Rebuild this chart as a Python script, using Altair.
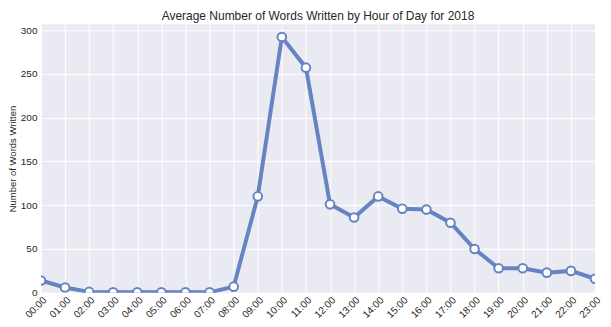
import altair as alt
import pandas as pd

hours = list(range(24))
hour_labels = [f"{h:02d}:00" for h in hours]
words = [14, 6, 1, 0.5, 0.5, 0.5, 0.5, 0.5, 7, 110, 292, 257, 101, 86, 110, 96, 95, 80, 50, 28, 28, 23, 25, 16]

df = pd.DataFrame({"hour": hours, "label": hour_labels, "words": words})

FONT = "Liberation Sans"
BLUE = "#6683C2"
TXT = "#262626"

x = alt.X("hour:Q", scale=alt.Scale(domain=[0, 23], nice=False, zero=False),
          axis=alt.Axis(values=hours, labelExpr="(datum.value < 10 ? '0' : '') + datum.value + ':00'",
                        labelAngle=-45, labelAlign="right", labelBaseline="top", labelPadding=2,
                        labelOverlap=False, labelFlush=False, labelBound=False,
                        title=None, labelFontSize=10))
y = alt.Y("words:Q", scale=alt.Scale(domain=[0, 306.6], nice=False),
          axis=alt.Axis(values=[0, 50, 100, 150, 200, 250, 300], title="Number of Words Written",
                        titleFontSize=9.5, titleFontWeight="normal", titleFont=FONT, titleColor=TXT,
                        titlePadding=3, labelFontSize=10, labelOverlap=False, labelPadding=4))

base = alt.Chart(df).encode(x=x, y=y)
line = base.mark_line(color=BLUE, strokeWidth=4, clip=True)
pts = base.mark_point(shape="circle", filled=True, fill="white", stroke=BLUE,
                      strokeWidth=2, size=75, opacity=1, clip=True)

chart = (line + pts).properties(
    width=555, height=269,
    background="white",
    title=alt.TitleParams("Average Number of Words Written by Hour of Day for 2018",
                          fontSize=12, font=FONT, fontWeight="normal", color=TXT, offset=1, anchor="middle"),
    autosize=alt.AutoSizeParams(type="none"),
    padding={"left": 33, "top": 16, "right": 8, "bottom": 26},
).configure_view(fill="#EAEAF2", strokeWidth=0).configure_axis(
    grid=True, ticks=False, domain=False, gridColor="white", gridWidth=1, gridOpacity=1,
    labelColor=TXT, labelFont=FONT, labelOverlap=False,
)

chart.save("out.html", embed_options={"renderer": "svg", "actions": False})
